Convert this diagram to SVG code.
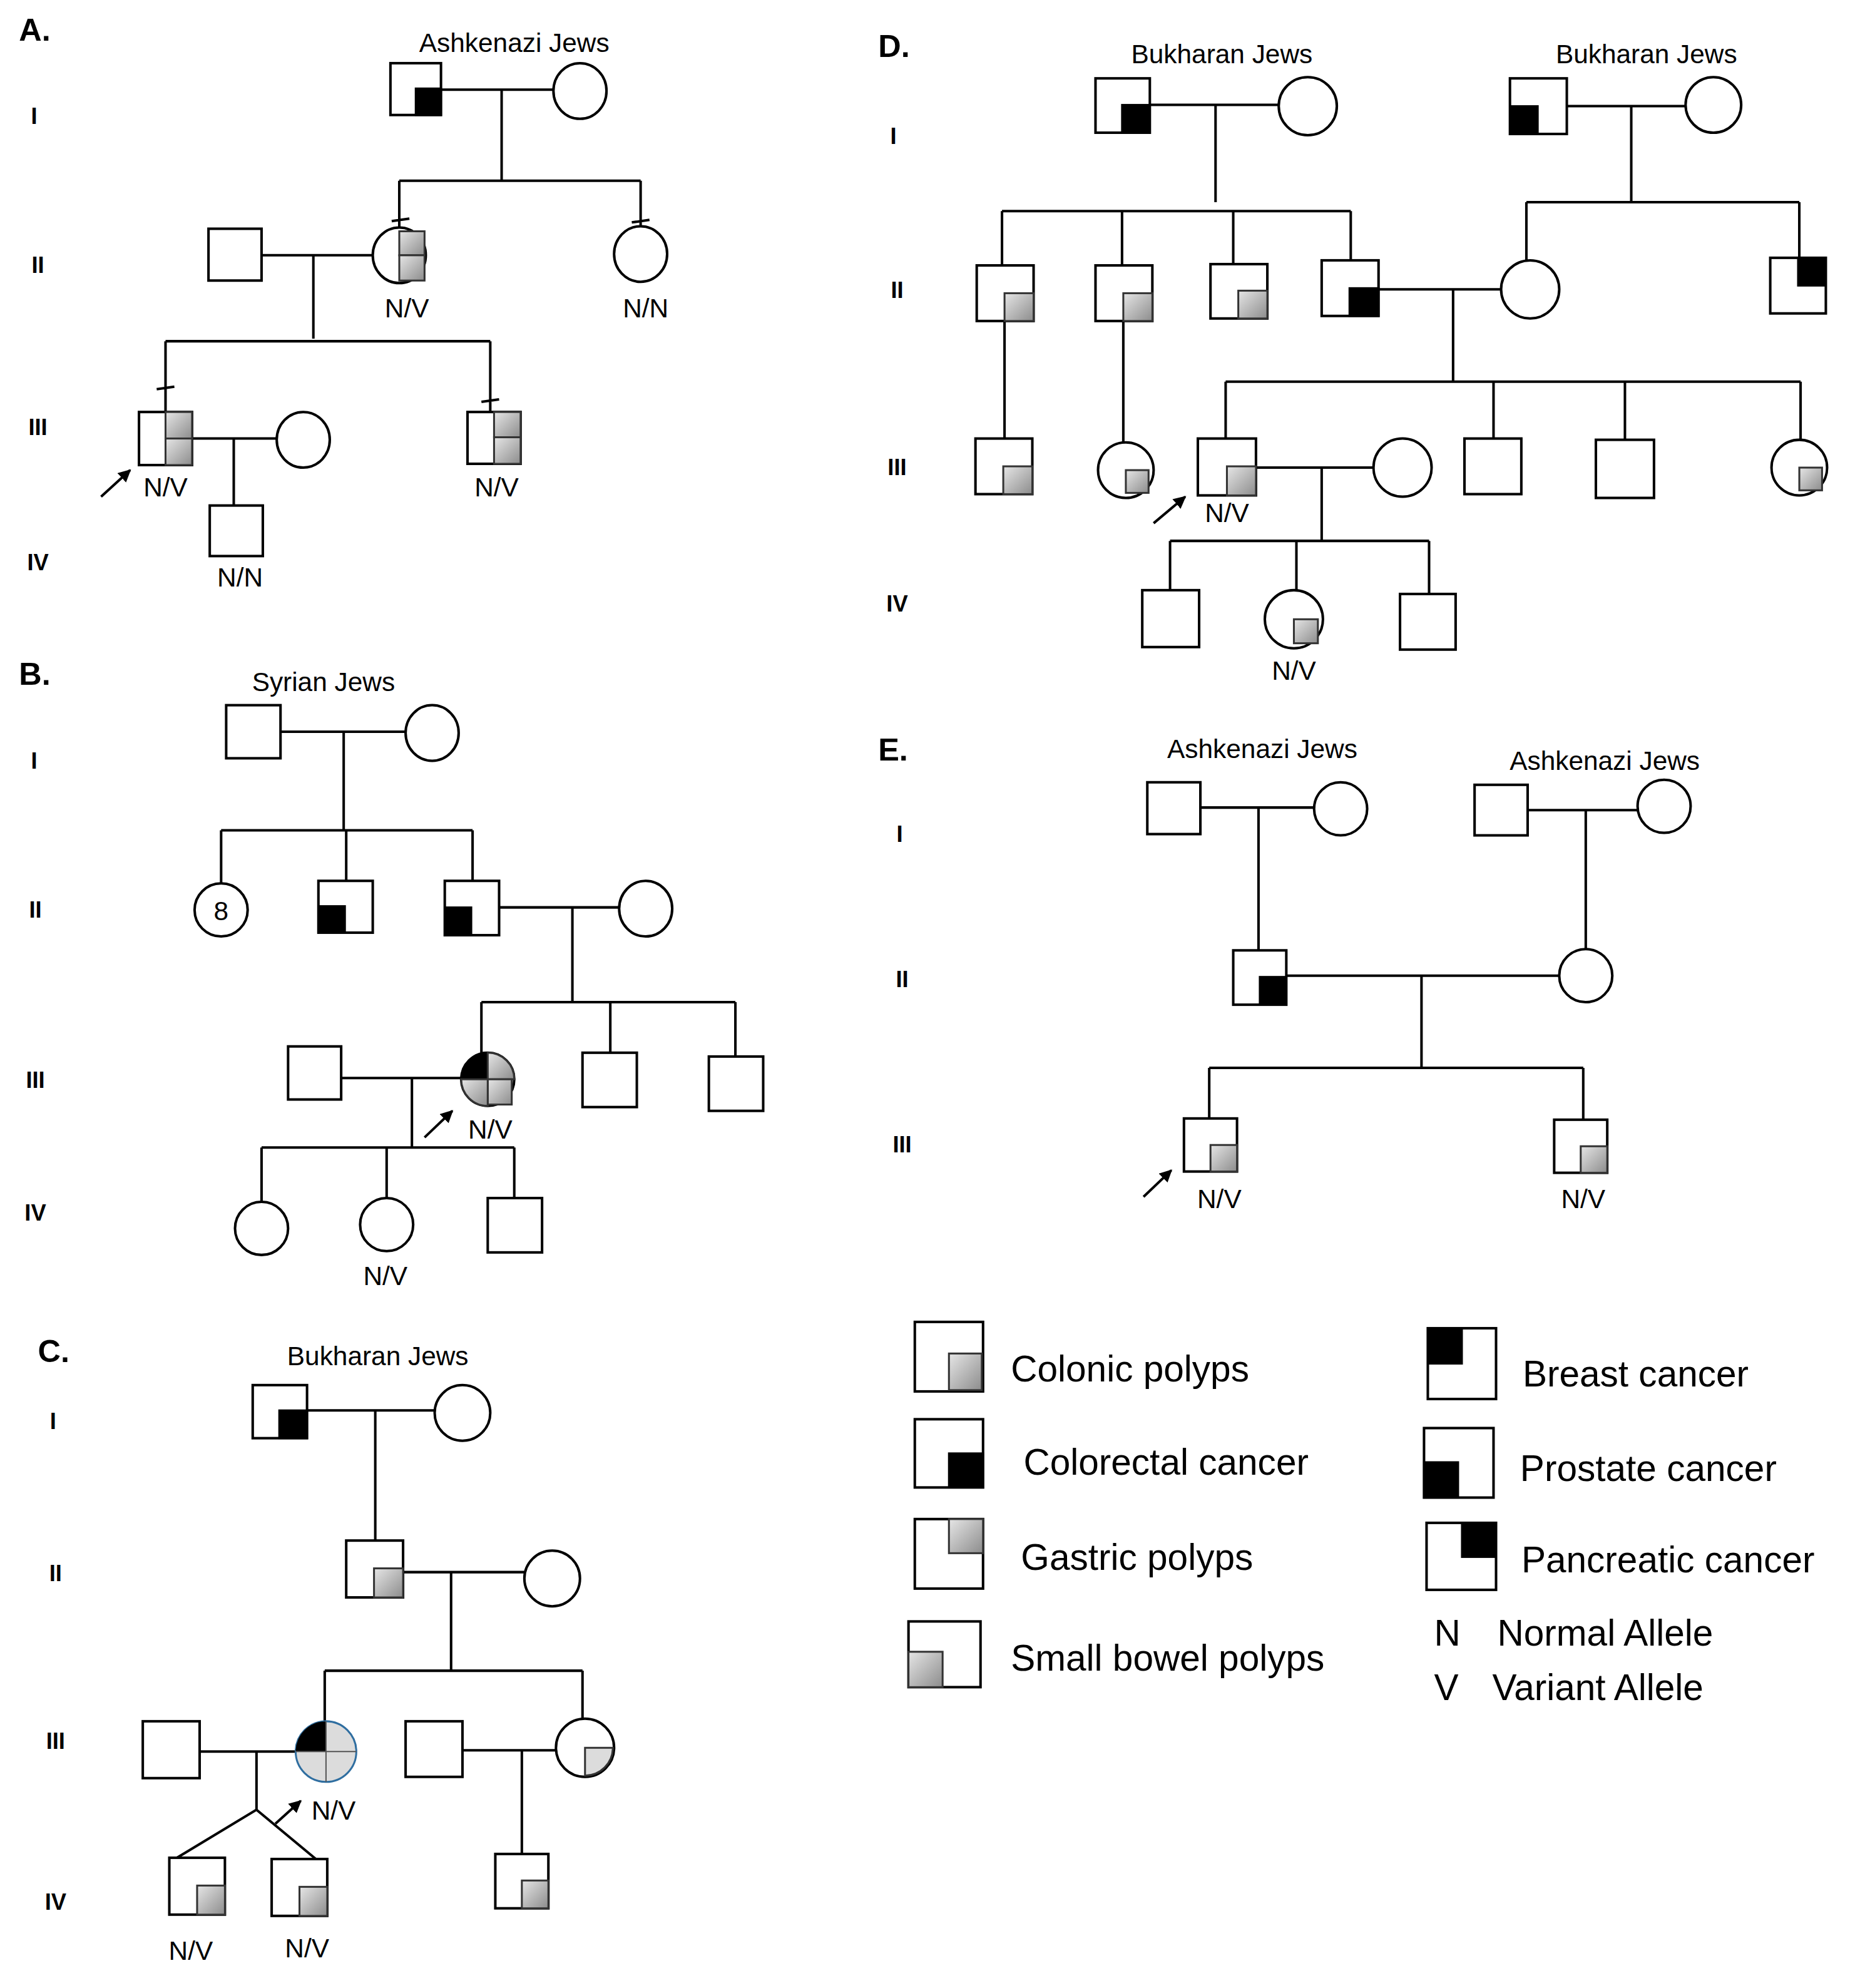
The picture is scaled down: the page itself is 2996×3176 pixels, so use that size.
<svg xmlns="http://www.w3.org/2000/svg" width="2996" height="3176" viewBox="0 0 2996 3176">
<style>
.n{fill:#fff;stroke:#000;stroke-width:2}
.g{fill:url(#gr);stroke:#333;stroke-width:1.5}
.k{fill:#000;stroke:#000;stroke-width:1.5}
.l{fill:none;stroke:#000;stroke-width:2}
text{font-family:"Liberation Sans",Arial,sans-serif;fill:#000}
.t{font-size:21px;text-anchor:middle}
.h{font-size:25px;font-weight:bold}
.gen{font-size:18px;font-weight:bold;text-anchor:middle}
.lg{font-size:29px}
</style>
<defs>
<linearGradient id="gr" x1="0" y1="0" x2="1" y2="1"><stop offset="0" stop-color="#e6e6e6"/><stop offset="1" stop-color="#8c8c8c"/></linearGradient>
<marker id="ar" viewBox="0 0 10 10" refX="9" refY="5" markerWidth="5" markerHeight="5" orient="auto"><path d="M0,0L10,5L0,10z" fill="#000"/></marker>
</defs>
<rect width="2996" height="3176" fill="#fff"/>
<g transform="scale(2.019)">
<!-- connectors -->
<g id="connectors" class="l">
<!-- A -->
<path d="M349,71H438M397,71V143M316,143H507M316,143V181M507,143V180M310,175l14,-2M500,176l14,-2M207,202H295M248,202V268M131,270H388M131,270V326M388,270V326M124,308l14,-2M381,318l14,-2M152,347H219M185,347V400"/>
<path d="M80,393L103,372" marker-end="url(#ar)"/>
<!-- B -->
<path d="M222,579H321M272,579V657M175,657H374M175,657V699M274,657V697M374,657V697M395,718H490M453,718V793M381,793H582M381,793V833M483,793V833M582,793V836M270,853H365M326,853V908M207,908H407M207,908V951M306,908V948M407,908V948"/>
<path d="M336,900L358,879" marker-end="url(#ar)"/>
<!-- C -->
<path d="M243,1116H344M297,1116V1219M319,1244H415M357,1244V1322M257,1322H461M257,1322V1362M461,1322V1360M158,1386H234M203,1386V1432L140,1470M203,1432L250,1471M366,1385H440M413,1385V1467"/>
<path d="M218,1443L238,1425" marker-end="url(#ar)"/>
<!-- D -->
<path d="M910,83H1012M962,83V160M793,167H1069M793,167V210M888,167V210M976,167V209M1069,167V206M1240,84H1334M1291,84V160M1208,160H1424M1208,160V206M1424,160V204M1091,229H1188M1150,229V302M970,302H1425M970,302V347M1182,302V347M1286,302V348M1425,302V348M795,254V347M889,254V350M994,370H1087M1046,370V428M926,428H1131M926,428V467M1026,428V467M1131,428V470"/>
<path d="M913,414L938,393" marker-end="url(#ar)"/>
<!-- E -->
<path d="M950,639H1040M996,639V752M1209,641H1296M1255,641V751M1018,772H1234M1125,772V845M957,845H1253M957,845V885M1253,845V886"/>
<path d="M905,947L927,926" marker-end="url(#ar)"/>
</g>
<!-- headings -->
<g id="labels">
<text class="h" x="15" y="32">A.</text><text class="h" x="15" y="542">B.</text><text class="h" x="30" y="1078">C.</text><text class="h" x="695" y="45">D.</text><text class="h" x="695" y="602">E.</text>
<text class="gen" x="27" y="98">I</text><text class="gen" x="30" y="216">II</text><text class="gen" x="30" y="344">III</text><text class="gen" x="30" y="451">IV</text>
<text class="gen" x="27" y="608">I</text><text class="gen" x="28" y="726">II</text><text class="gen" x="28" y="861">III</text><text class="gen" x="28" y="966">IV</text>
<text class="gen" x="42" y="1131">I</text><text class="gen" x="44" y="1251">II</text><text class="gen" x="44" y="1384">III</text><text class="gen" x="44" y="1511">IV</text>
<text class="gen" x="707" y="114">I</text><text class="gen" x="710" y="236">II</text><text class="gen" x="710" y="376">III</text><text class="gen" x="710" y="484">IV</text>
<text class="gen" x="712" y="666">I</text><text class="gen" x="714" y="781">II</text><text class="gen" x="714" y="912">III</text>
<text class="t" x="407" y="41">Ashkenazi Jews</text><text class="t" x="256" y="547">Syrian Jews</text><text class="t" x="299" y="1080">Bukharan Jews</text>
<text class="t" x="967" y="50">Bukharan Jews</text><text class="t" x="1303" y="50">Bukharan Jews</text>
<text class="t" x="999" y="600">Ashkenazi Jews</text><text class="t" x="1270" y="609">Ashkenazi Jews</text>
<text class="t" x="322" y="251">N/V</text><text class="t" x="511" y="251">N/N</text><text class="t" x="131" y="393">N/V</text><text class="t" x="393" y="393">N/V</text><text class="t" x="190" y="464">N/N</text>
<text class="t" x="388" y="901">N/V</text><text class="t" x="305" y="1017">N/V</text>
<text class="t" x="264" y="1440">N/V</text><text class="t" x="151" y="1551">N/V</text><text class="t" x="243" y="1549">N/V</text>
<text class="t" x="971" y="413">N/V</text><text class="t" x="1024" y="538">N/V</text>
<text class="t" x="965" y="956">N/V</text><text class="t" x="1253" y="956">N/V</text>
</g>
<!-- A nodes -->
<g id="A-I-1"><rect class="n" x="309" y="50" width="40" height="41"/><rect class="k" x="329" y="70" width="20" height="21"/></g>
<g id="A-I-2"><ellipse class="n" cx="459" cy="72" rx="21" ry="22"/></g>
<g id="A-II-1"><rect class="n" x="165" y="181" width="42" height="41"/></g>
<g id="A-II-2"><ellipse class="n" cx="316" cy="202" rx="21" ry="22"/><rect class="g" x="316" y="183" width="20" height="19"/><rect class="g" x="316" y="202" width="20" height="20"/></g>
<g id="A-II-3"><ellipse class="n" cx="507" cy="201" rx="21" ry="22"/></g>
<g id="A-III-1"><rect class="n" x="110" y="326" width="42" height="42"/><rect class="g" x="131" y="326" width="21" height="21"/><rect class="g" x="131" y="347" width="21" height="21"/></g>
<g id="A-III-2"><ellipse class="n" cx="240" cy="348" rx="21" ry="22"/></g>
<g id="A-III-3"><rect class="n" x="370" y="326" width="42" height="41"/><rect class="g" x="391" y="326" width="21" height="20"/><rect class="g" x="391" y="346" width="21" height="21"/></g>
<g id="A-IV-1"><rect class="n" x="166" y="400" width="42" height="40"/></g>
<!-- B nodes -->
<g id="B-I-1"><rect class="n" x="179" y="558" width="43" height="42"/></g>
<g id="B-I-2"><ellipse class="n" cx="342" cy="580" rx="21" ry="22"/></g>
<g id="B-II-1"><ellipse class="n" cx="175" cy="720" rx="21" ry="21"/><text x="175" y="728" font-size="21" text-anchor="middle">8</text></g>
<g id="B-II-2"><rect class="n" x="252" y="697" width="43" height="41"/><rect class="k" x="252" y="717" width="21" height="21"/></g>
<g id="B-II-3"><rect class="n" x="352" y="697" width="43" height="43"/><rect class="k" x="352" y="718" width="21" height="22"/></g>
<g id="B-II-4"><ellipse class="n" cx="511" cy="719" rx="21" ry="22"/></g>
<g id="B-III-1"><rect class="n" x="228" y="828" width="42" height="42"/></g>
<g id="B-III-2"><ellipse class="n" cx="386" cy="854" rx="21" ry="21"/><path class="k" d="M386,854H365A21,21 0 0 1 386,833Z"/><path class="g" d="M386,854V833A21,21 0 0 1 407,854Z"/><rect class="g" x="386" y="854" width="19" height="20"/><path class="g" d="M386,854H365A21,21 0 0 0 386,875Z"/></g>
<g id="B-III-3"><rect class="n" x="461" y="833" width="43" height="43"/></g>
<g id="B-III-4"><rect class="n" x="561" y="836" width="43" height="43"/></g>
<g id="B-IV-1"><ellipse class="n" cx="207" cy="972" rx="21" ry="21"/></g>
<g id="B-IV-2"><ellipse class="n" cx="306" cy="969" rx="21" ry="21"/></g>
<g id="B-IV-3"><rect class="n" x="386" y="948" width="43" height="43"/></g>
<!-- C nodes -->
<g id="C-I-1"><rect class="n" x="200" y="1096" width="43" height="42"/><rect class="k" x="221" y="1116" width="22" height="22"/></g>
<g id="C-I-2"><ellipse class="n" cx="366" cy="1118" rx="22" ry="22"/></g>
<g id="C-II-1"><rect class="n" x="274" y="1219" width="45" height="45"/><rect class="g" x="296" y="1241" width="23" height="23"/></g>
<g id="C-II-2"><ellipse class="n" cx="437" cy="1249" rx="22" ry="22"/></g>
<g id="C-III-1"><rect class="n" x="113" y="1362" width="45" height="45"/></g>
<g id="C-III-2"><ellipse cx="258" cy="1386" rx="24" ry="24" fill="#dcdcdc" stroke="#2f6ea0" stroke-width="1.5"/><path d="M258,1386H234A24,24 0 0 1 258,1362Z" fill="#000"/><path d="M258,1362V1410M234,1386H282" stroke="#555" stroke-width="1"/></g>
<g id="C-III-3"><rect class="n" x="321" y="1362" width="45" height="44"/></g>
<g id="C-III-4"><ellipse class="n" cx="463" cy="1383" rx="23" ry="23"/><path class="g" style="fill:#dcdcdc" d="M463,1383H485A22,22 0 0 1 463,1405Z"/></g>
<g id="C-IV-1"><rect class="n" x="134" y="1470" width="44" height="45"/><rect class="g" x="156" y="1492" width="22" height="23"/></g>
<g id="C-IV-2"><rect class="n" x="215" y="1471" width="44" height="45"/><rect class="g" x="237" y="1493" width="22" height="23"/></g>
<g id="C-IV-3"><rect class="n" x="392" y="1467" width="42" height="43"/><rect class="g" x="413" y="1488" width="21" height="22"/></g>
<!-- D nodes -->
<g id="D-I-1"><rect class="n" x="867" y="62" width="43" height="43"/><rect class="k" x="888" y="83" width="22" height="22"/></g>
<g id="D-I-2"><ellipse class="n" cx="1035" cy="84" rx="23" ry="23"/></g>
<g id="D-I-3"><rect class="n" x="1195" y="62" width="45" height="44"/><rect class="k" x="1195" y="84" width="22" height="22"/></g>
<g id="D-I-4"><ellipse class="n" cx="1356" cy="83" rx="22" ry="22"/></g>
<g id="D-II-1"><rect class="n" x="773" y="210" width="45" height="44"/><rect class="g" x="795" y="232" width="23" height="22"/></g>
<g id="D-II-2"><rect class="n" x="867" y="210" width="45" height="44"/><rect class="g" x="889" y="232" width="23" height="22"/></g>
<g id="D-II-3"><rect class="n" x="958" y="209" width="45" height="43"/><rect class="g" x="980" y="230" width="23" height="22"/></g>
<g id="D-II-4"><rect class="n" x="1046" y="206" width="45" height="44"/><rect class="k" x="1068" y="228" width="23" height="22"/></g>
<g id="D-II-5"><ellipse class="n" cx="1211" cy="229" rx="23" ry="23"/></g>
<g id="D-II-6"><rect class="n" x="1401" y="204" width="44" height="44"/><rect class="k" x="1423" y="204" width="22" height="22"/></g>
<g id="D-III-1"><rect class="n" x="772" y="347" width="45" height="44"/><rect class="g" x="794" y="369" width="23" height="22"/></g>
<g id="D-III-2"><ellipse class="n" cx="891" cy="372" rx="22" ry="22"/><rect class="g" x="891" y="372" width="18" height="18"/></g>
<g id="D-III-3"><rect class="n" x="948" y="347" width="46" height="45"/><rect class="g" x="971" y="369" width="23" height="23"/></g>
<g id="D-III-4"><ellipse class="n" cx="1110" cy="370" rx="23" ry="23"/></g>
<g id="D-III-5"><rect class="n" x="1159" y="347" width="45" height="44"/></g>
<g id="D-III-6"><rect class="n" x="1263" y="348" width="46" height="46"/></g>
<g id="D-III-7"><ellipse class="n" cx="1424" cy="370" rx="22" ry="22"/><rect class="g" x="1424" y="370" width="18" height="18"/></g>
<g id="D-IV-1"><rect class="n" x="904" y="467" width="45" height="45"/></g>
<g id="D-IV-2"><ellipse class="n" cx="1024" cy="490" rx="23" ry="23"/><rect class="g" x="1024" y="490" width="19" height="19"/></g>
<g id="D-IV-3"><rect class="n" x="1108" y="470" width="44" height="44"/></g>
<!-- E nodes -->
<g id="E-I-1"><rect class="n" x="908" y="619" width="42" height="41"/></g>
<g id="E-I-2"><ellipse class="n" cx="1061" cy="640" rx="21" ry="21"/></g>
<g id="E-I-3"><rect class="n" x="1167" y="621" width="42" height="40"/></g>
<g id="E-I-4"><ellipse class="n" cx="1317" cy="638" rx="21" ry="21"/></g>
<g id="E-II-1"><rect class="n" x="976" y="752" width="42" height="43"/><rect class="k" x="997" y="773" width="21" height="22"/></g>
<g id="E-II-2"><ellipse class="n" cx="1255" cy="772" rx="21" ry="21"/></g>
<g id="E-III-1"><rect class="n" x="937" y="885" width="42" height="42"/><rect class="g" x="958" y="906" width="21" height="21"/></g>
<g id="E-III-2"><rect class="n" x="1230" y="886" width="42" height="42"/><rect class="g" x="1251" y="907" width="21" height="21"/></g>
<!-- Legend -->
<g id="legend">
<rect class="n" x="724" y="1046" width="54" height="55"/><rect class="g" x="751" y="1071" width="26" height="29"/>
<text class="lg" x="800" y="1093">Colonic polyps</text>
<rect class="n" x="724" y="1123" width="54" height="54"/><rect class="k" x="751" y="1150" width="27" height="27"/>
<text class="lg" x="810" y="1167">Colorectal cancer</text>
<rect class="n" x="724" y="1202" width="54" height="55"/><rect class="g" x="751" y="1202" width="27" height="27"/>
<text class="lg" x="808" y="1242">Gastric polyps</text>
<rect class="n" x="719" y="1283" width="57" height="52"/><rect class="g" x="719" y="1307" width="27" height="28"/>
<text class="lg" x="800" y="1322">Small bowel polyps</text>
<rect class="n" x="1130" y="1051" width="54" height="56"/><rect class="k" x="1130" y="1051" width="27" height="28"/>
<text class="lg" x="1205" y="1097">Breast cancer</text>
<rect class="n" x="1127" y="1130" width="55" height="55"/><rect class="k" x="1127" y="1157" width="27" height="28"/>
<text class="lg" x="1203" y="1172">Prostate cancer</text>
<rect class="n" x="1129" y="1205" width="55" height="53"/><rect class="k" x="1157" y="1205" width="27" height="27"/>
<text class="lg" x="1204" y="1244">Pancreatic cancer</text>
<text class="lg" x="1135" y="1302">N</text><text class="lg" x="1185" y="1302">Normal Allele</text>
<text class="lg" x="1135" y="1345">V</text><text class="lg" x="1181" y="1345">Variant Allele</text>
</g>
</g>
</svg>
